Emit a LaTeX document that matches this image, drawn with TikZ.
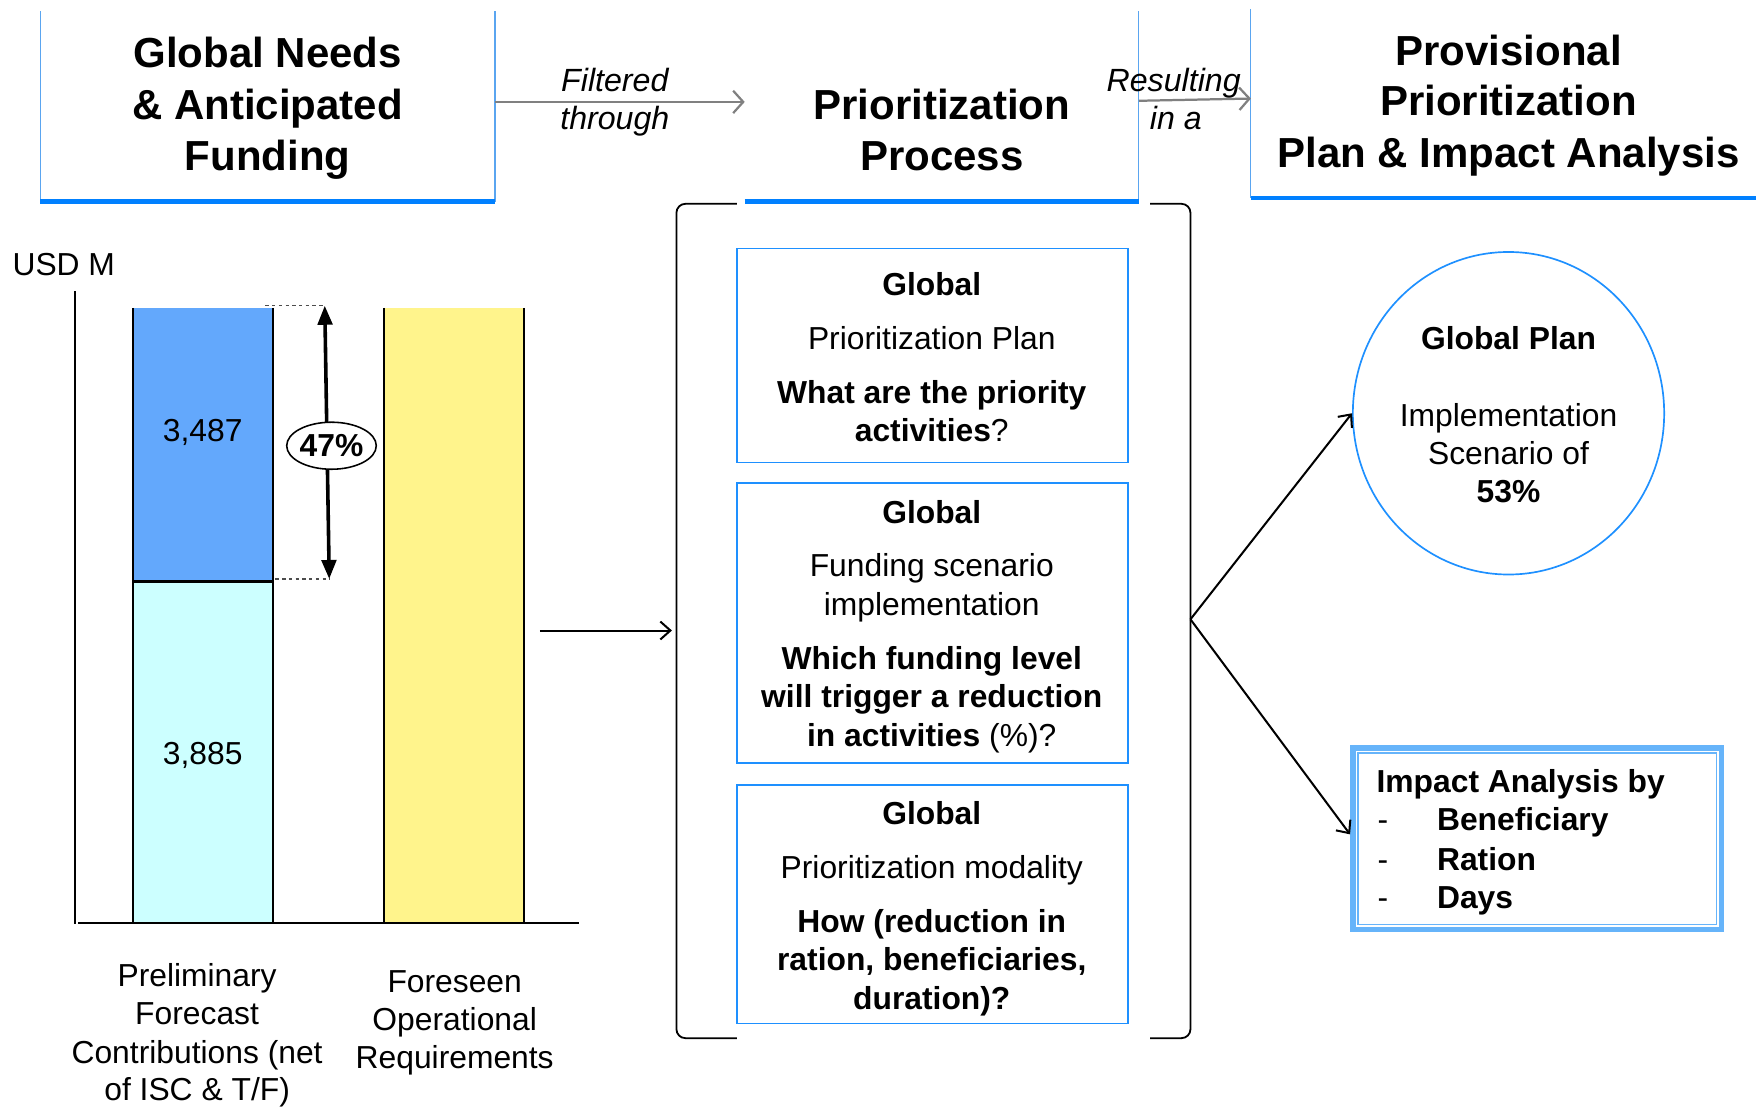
\documentclass[tikz,border=0pt]{standalone}
\usepackage{fontspec}
\setmainfont{Liberation Sans}
\usetikzlibrary{arrows.meta,shapes.geometric}
\definecolor{hdrblue}{RGB}{0,128,255}
\definecolor{sideblue}{RGB}{90,165,240}
\definecolor{boxblue}{RGB}{30,144,255}
\definecolor{impblue}{RGB}{102,180,250}
\definecolor{barblue}{RGB}{99,168,252}
\definecolor{barcyan}{RGB}{204,255,255}
\definecolor{baryellow}{RGB}{255,244,140}
\definecolor{arrgray}{RGB}{128,128,128}
\begin{document}
\begin{tikzpicture}[x=1pt,y=-1pt,
  hdr/.style={anchor=base,inner sep=0pt,font=\fontsize{37.5}{45}\selectfont\bfseries},
  bt/.style={anchor=base,inner sep=0pt,font=\fontsize{28.4}{34}\selectfont},
  bb/.style={anchor=base,inner sep=0pt,font=\fontsize{28.4}{34}\selectfont\bfseries},
  itlab/.style={anchor=base,inner sep=0pt,font=\fontsize{28.7}{34}\selectfont\itshape},
  hdrbar/.style={draw=hdrblue,line width=4pt},
  hdrside/.style={draw=sideblue,line width=0.9pt},
  pbox/.style={draw=boxblue,line width=1.5pt,fill=white,inner sep=0pt},
  grayarrow/.style={draw=arrgray,line width=2pt,-{Straight Barb[length=9pt,width=20pt,line width=2pt]}},
  blackarrow/.style={draw=black,line width=1.8pt,-{Straight Barb[length=9pt,width=16pt,line width=1.8pt]}},
  barside/.style={draw=black,line width=2pt},
]
\useasboundingbox (0,0) rectangle (1568,988);

% ---------- headers ----------
\draw[hdrside] (36,10) -- (36,180);
\draw[hdrside] (442,10) -- (442,180);
\draw[hdrbar] (36,180) -- (442,180);
\node[hdr] (h1a) at (239,60.4) {Global Needs};
\node[hdr] (h1b) at (239,106.4) {\& Anticipated};
\node[hdr] (h1c) at (239,152.4) {Funding};

\draw[hdrside] (1017,10) -- (1017,180);
\draw[hdrbar] (665,180) -- (1017,180);
\node[hdr] (h2a) at (841,106.4) {Prioritization};
\node[hdr] (h2b) at (841,152.4) {Process};

\draw[hdrside] (1117,8) -- (1117,177);
\draw[hdrbar] (1117,177) -- (1568,177);
\node[hdr] (h3a) at (1347,58.4) {Provisional};
\node[hdr] (h3b) at (1347,103.4) {Prioritization};
\node[hdr] (h3c) at (1347,149.4) {Plan \& Impact Analysis};

% header arrows
\coordinate (fa) at (442,91);
\coordinate (fb) at (665,91);
\draw[grayarrow] (fa) -- (fb);
\node[itlab] (filt1) at (549,82) {Filtered};
\node[itlab] (filt2) at (549,116) {through};
\coordinate (ra) at (1017,90);
\coordinate (rb) at (1117,88);
\draw[grayarrow] (ra) -- (rb);
\node[itlab] (res1) at (1048,82) {Resulting};
\node[itlab] (res2) at (1050,116) {in a};

% ---------- bar chart ----------
\node[bt,anchor=base west] (usd) at (11,246) {USD M};
\fill[barblue] (119,275) rectangle (244,519);
\fill[barcyan] (119,519) rectangle (244,824);
\fill[baryellow] (343,275) rectangle (468,824);
\draw[barside] (119,275) -- (119,824);
\draw[barside] (244,275) -- (244,824);
\draw[barside] (343,275) -- (343,824);
\draw[barside] (468,275) -- (468,824);
\draw[draw=black,line width=2.4pt] (119,519) -- (244,519);
\draw[line width=1.4pt] (67,260) -- (67,825);
\draw[line width=2.2pt] (70,824) -- (517,824);
\node[bt] (v1) at (181,394) {3,487};
\node[bt] (v2) at (181,683) {3,885};

\draw[dashed,line width=0.9pt,draw=black!70] (237,273) -- (290,273);
\draw[dashed,line width=0.9pt,draw=black!70] (246,517) -- (295,517);
\coordinate (dtop) at (290,273);
\coordinate (dbot) at (294,517);
\draw[line width=3.2pt,{Triangle[length=17pt,width=13pt]}-{Triangle[length=17pt,width=13pt]}] (dtop) -- (dbot);
\node[ellipse,draw=black,line width=1.4pt,fill=white,minimum width=80pt,minimum height=42pt,inner sep=0pt] (pct) at (296,398) {};
\node[bb] (pcttxt) at (296,408) {47\%};

\node[bt] (l1a) at (176,881) {Preliminary};
\node[bt] (l1b) at (176,915) {Forecast};
\node[bt] (l1c) at (176,950) {Contributions (net};
\node[bt] (l1d) at (176,983) {of ISC \& T/F)};
\node[bt] (l2a) at (406,886) {Foreseen};
\node[bt] (l2b) at (406,920) {Operational};
\node[bt] (l2c) at (406,954) {Requirements};

\coordinate (ca) at (482,563);
\coordinate (cb) at (600,563);
\draw[blackarrow] (ca) -- (cb);

% ---------- bracket ----------
\draw[line width=1.6pt,rounded corners=8pt] (658,182) -- (604,182) -- (604,927) -- (658,927);
\draw[line width=1.6pt,rounded corners=8pt] (1027,182) -- (1063,182) -- (1063,927) -- (1027,927);

% ---------- process boxes ----------
\node[pbox,minimum width=349pt,minimum height=191pt] (box1) at (832.5,317.5) {};
\node[bb] (b1a) at (832,264) {Global};
\node[bt] (b1b) at (832,312) {Prioritization Plan};
\node[bb] (b1c) at (832,360) {What are the priority};
\node[bt] (b1d) at (832,394) {\textbf{activities}?};

\node[pbox,minimum width=349pt,minimum height=250pt] (box2) at (832.5,556) {};
\node[bb] (b2a) at (832,467) {Global};
\node[bt] (b2b) at (832,515) {Funding scenario};
\node[bt] (b2c) at (832,550) {implementation};
\node[bb] (b2d) at (832,598) {Which funding level};
\node[bb] (b2e) at (832,632) {will trigger a reduction};
\node[bt] (b2f) at (832,667) {\textbf{in activities} (\%)?};

\node[pbox,minimum width=349pt,minimum height=213pt] (box3) at (832.5,807.5) {};
\node[bb] (b3a) at (832,736) {Global};
\node[bt] (b3b) at (832,784) {Prioritization modality};
\node[bb] (b3c) at (832,833) {How (reduction in};
\node[bb] (b3d) at (832,867) {ration, beneficiaries,};
\node[bb] (b3e) at (832,901) {duration)?};

% ---------- results ----------
\node[ellipse,draw=boxblue,line width=1.5pt,minimum width=278pt,minimum height=288pt,inner sep=0pt] (plan) at (1347,369) {};
\node[bb] (p1) at (1347,312) {Global Plan};
\node[bt] (p2) at (1347,381) {Implementation};
\node[bt] (p3) at (1347,415) {Scenario of};
\node[bb] (p4) at (1347,449) {53\%};

\node[draw=impblue,line width=5pt,minimum width=329pt,minimum height=162pt,inner sep=0pt] (impact) at (1372.5,749) {};
\draw[draw=impblue,line width=1.2pt] ([shift={(7,7)}]impact.north west) rectangle ([shift={(-7,-7)}]impact.south east);
\node[bb,anchor=base west] (i1) at (1229,708) {Impact Analysis by};
\node[bt,anchor=base west] (i2d) at (1230,742) {-};
\node[bb,anchor=base west] (i2) at (1283,742) {Beneficiary};
\node[bt,anchor=base west] (i3d) at (1230,777) {-};
\node[bb,anchor=base west] (i3) at (1283,777) {Ration};
\node[bt,anchor=base west] (i4d) at (1230,811) {-};
\node[bb,anchor=base west] (i4) at (1283,811) {Days};

\coordinate (split) at (1063,553);
\draw[blackarrow] (split) -- (plan.west);
\draw[blackarrow] (split) -- ([yshift=4pt]impact.west);
\end{tikzpicture}
\end{document}
